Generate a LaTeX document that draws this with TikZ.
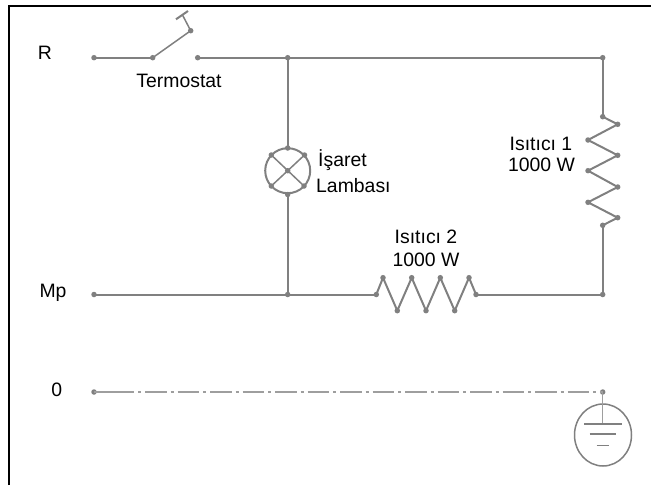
\documentclass[tikz,border=0pt]{standalone}
\usepackage{fontspec}
\usetikzlibrary{shapes.geometric}
\setmainfont{Liberation Sans}
\definecolor{wirecol}{gray}{0.5}
\definecolor{neutralcol}{gray}{0.62}
\tikzset{
  wire/.style={draw=wirecol,line width=2pt},
  thinwire/.style={draw=wirecol,line width=1.5pt},
  neutralwire/.style={draw=neutralcol,line width=1.1pt},
  dotmark/.style={circle,fill=wirecol,draw=none,inner sep=0pt,minimum size=5.5pt},
  lbl/.style={inner sep=0pt,anchor=base,font=\fontsize{19.4}{22}\selectfont,text=black},
  frameline/.style={draw=black,line width=2.2pt}
}
\begin{document}
\begin{tikzpicture}[x=1pt,y=-1pt]
\useasboundingbox (0,0) rectangle (651,485);
\draw[frameline] (9,485) -- (9,5.7) -- (651,5.7);
% terminals and junctions
\foreach \n/\x/\y in {r/94/57.7, sa/152.7/57.7, sb/190.7/30.7, sc/197.7/57.7,
  tj/287.7/57.7, tr/602.7/57.7,
  lt/287.7/148, lb/287.7/194.5, lc/287.7/170.7, lul/271.3/155, lur/304.5/155, lll/271.3/186, llr/304/186,
  mp/94/294.5, mj/287.7/294.5, mr/602.7/294.5,
  ba/376.3/294.5, bb/383/277.7, bc/397.3/310.7, bd/411.7/277.7, be/426/310.7, bf/440.3/277.7, bg/454.7/310.7, bh/469/277.7, bi/476/294.5,
  ha/602.7/116.7, hb/617.7/124.3, hc/588/140, hd/617.7/155.3, he/588/170.7, hf/617.7/187, hg/588/202.3, hh/617.7/217.7, hi/602.7/225.3,
  z/94/392, ze/602.7/392}
  {\node[dotmark] (\n) at (\x,\y) {};}
\coordinate (leva) at (182.5,15);
\coordinate (tba) at (176,19.3);
\coordinate (tbb) at (188,11);
\coordinate (dstart) at (112.5,392);
% switch
\draw[wire] (r.center) -- (sa.center);
\draw[thinwire] (sa.center) -- (sb.center) -- (leva);
\draw[wire] (tba) -- (tbb);
% main wires
\draw[wire] (sc.center) -- (tj.center) -- (tr.center) -- (ha.center);
\draw[wire] (tj.center) -- (lt.center);
\draw[wire] (lb.center) -- (mj.center);
\draw[wire] (mp.center) -- (mj.center) -- (ba.center);
\draw[wire] (bi.center) -- (mr.center) -- (hi.center);
% heaters
\draw[wire] (ba.center) -- (bb.center) -- (bc.center) -- (bd.center) -- (be.center) -- (bf.center) -- (bg.center) -- (bh.center) -- (bi.center);
\draw[wire] (ha.center) -- (hb.center) -- (hc.center) -- (hd.center) -- (he.center) -- (hf.center) -- (hg.center) -- (hh.center) -- (hi.center);
% lamp
\node[circle,wire,inner sep=0pt,minimum size=45pt] (lamp) at (lc) {};
\draw[thinwire] (lul.center) -- (llr.center);
\draw[thinwire] (lur.center) -- (lll.center);
% neutral dash-dot
\draw[neutralwire] (z.center) -- (dstart);
\draw[neutralwire,dash pattern=on 21.5pt off 4pt on 3pt off 4pt] (dstart) -- (ze.center);
% earth
\node[ellipse,draw=wirecol,line width=1.5pt,inner sep=0pt,minimum width=57pt,minimum height=62pt] (earth) at (603,435) {};
\coordinate (ea) at (602.7,424);
\coordinate (eb1) at (584.3,424); \coordinate (eb2) at (622.3,424);
\coordinate (ec1) at (589.7,434); \coordinate (ec2) at (616.3,434);
\coordinate (ed1) at (596.7,445.3); \coordinate (ed2) at (608.7,445.3);
\draw[neutralwire] (ze.center) -- (ea);
\draw[thinwire] (eb1) -- (eb2);
\draw[thinwire] (ec1) -- (ec2);
\draw[thinwire] (ed1) -- (ed2);
% labels
\node[lbl] (tR) at (45,59) {R};
\node[lbl] (tTerm) at (179,87.3) {Termostat};
\node[lbl,anchor=base west] (tIs) at (318,166.7) {İşaret};
\node[lbl,anchor=base west] (tLa) at (316,192) {Lambası};
\node[lbl] (tH1) at (541,150) {Isıtıcı 1};
\node[lbl] (tH1w) at (541.5,171.7) {1000 W};
\node[lbl] (tH2) at (426,243.3) {Isıtıcı 2};
\node[lbl] (tH2w) at (426,266.7) {1000 W};
\node[lbl] (tMp) at (53,297.3) {Mp};
\node[lbl] (tZ) at (56.7,396.7) {0};
\end{tikzpicture}
\end{document}
